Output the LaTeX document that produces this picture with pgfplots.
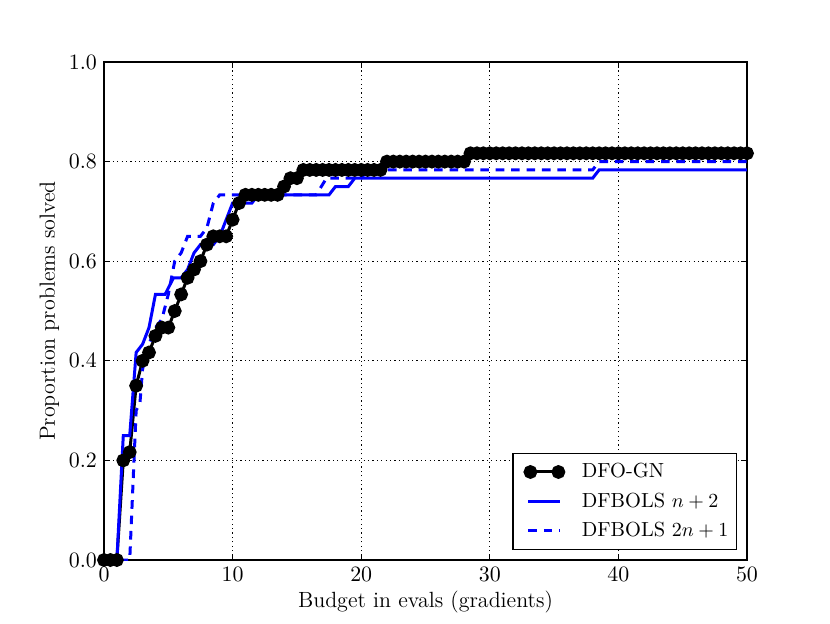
\documentclass[border=0pt]{standalone}
\usepackage{pgfplots}
\pgfplotsset{compat=1.18}
\pgfplotsset{
  plainline legend/.style={legend image code/.code={\path (0pt,0pt); \draw[##1] (5pt,0pt) -- (21pt,0pt);}},
  twomark legend/.style={legend image code/.code={\path (0pt,0pt); \draw[##1] plot coordinates {(6pt,0pt) (20pt,0pt)};}},
}
\begin{document}
\begin{tikzpicture}
\useasboundingbox (-52pt,-31.5pt) rectangle (363pt,280pt);
\begin{axis}[
  at={(0,0)}, anchor=south west,
  scale only axis, width=321.5pt, height=249pt,
  xmin=0, xmax=50, ymin=0, ymax=1,
  xtick={0,10,20,30,40,50},
  ytick={0,0.2,0.4,0.6,0.8,1.0},
  yticklabel style={/pgf/number format/fixed,/pgf/number format/fixed zerofill,/pgf/number format/precision=1},
  tick label style={font=\fontsize{10.5}{12}\selectfont},
  label style={font=\fontsize{11}{13}\selectfont},
  tick align=inside,
  major tick length=3pt,
  tick style={black, line width=0.5pt},
  axis line style={line width=0.6pt},
  grid=major,
  major grid style={black, line width=0.5pt, dash pattern=on 0.6pt off 1.6pt},
  xlabel={Budget in evals (gradients)},
  ylabel={Proportion problems solved},
  xlabel style={yshift=2pt},
  ylabel style={yshift=-2pt},
  legend cell align=left,
  legend style={at={(0.9844,0.02)}, anchor=south east, draw=black, line width=0.6pt,
    inner xsep=2pt, inner ysep=3pt, row sep=2pt, font=\fontsize{10.2}{12}\selectfont,
    /tikz/every odd column/.append style={column sep=7pt}},
  plainline legend,
]
\addplot[black, line width=1.5pt, mark=*, mark size=2.7pt, mark options={solid}, twomark legend]
coordinates {
(0,0)(0.5,0)(1,0)(1.5,0.2)(2,0.2167)(2.5,0.35)(3,0.4)(3.5,0.4167)(4,0.45)(4.5,0.4667)
(5,0.4667)(5.5,0.5)(6,0.5333)(6.5,0.5667)(7,0.5833)(7.5,0.6)(8,0.6333)(8.5,0.65)(9,0.65)(9.5,0.65)
(10,0.6833)(10.5,0.7167)(11,0.7333)(11.5,0.7333)(12,0.7333)(12.5,0.7333)(13,0.7333)(13.5,0.7333)
(14,0.75)(14.5,0.7667)(15,0.7667)(15.5,0.7833)(16,0.7833)(16.5,0.7833)(17,0.7833)(17.5,0.7833)
(18,0.7833)(18.5,0.7833)(19,0.7833)(19.5,0.7833)(20,0.7833)(20.5,0.7833)(21,0.7833)(21.5,0.7833)
(22,0.8)(22.5,0.8)(23,0.8)(23.5,0.8)(24,0.8)(24.5,0.8)(25,0.8)(25.5,0.8)(26,0.8)(26.5,0.8)
(27,0.8)(27.5,0.8)(28,0.8)
(28.5,0.8167)(29,0.8167)(29.5,0.8167)(30,0.8167)(30.5,0.8167)(31,0.8167)(31.5,0.8167)(32,0.8167)
(32.5,0.8167)(33,0.8167)(33.5,0.8167)(34,0.8167)(34.5,0.8167)(35,0.8167)(35.5,0.8167)(36,0.8167)
(36.5,0.8167)(37,0.8167)(37.5,0.8167)(38,0.8167)(38.5,0.8167)(39,0.8167)(39.5,0.8167)(40,0.8167)
(40.5,0.8167)(41,0.8167)(41.5,0.8167)(42,0.8167)(42.5,0.8167)(43,0.8167)(43.5,0.8167)(44,0.8167)
(44.5,0.8167)(45,0.8167)(45.5,0.8167)(46,0.8167)(46.5,0.8167)(47,0.8167)(47.5,0.8167)(48,0.8167)
(48.5,0.8167)(49,0.8167)(49.5,0.8167)(50,0.8167)
};
\addlegendentry{DFO-GN}
\addplot[blue, line width=1.5pt]
coordinates {
(0,0)(1,0)(1.5,0.25)(2,0.25)(2.5,0.4167)(3,0.4333)(3.5,0.4667)(4,0.5333)(4.75,0.5333)(5.4,0.5667)
(6,0.5667)(6.5,0.5833)(7,0.6167)(7.5,0.6333)(8.5,0.6333)(9,0.65)(9.5,0.6833)(10,0.7167)
(11.5,0.7167)(12,0.7333)(17.5,0.7333)(18,0.75)(19,0.75)(19.5,0.7667)(38,0.7667)(38.5,0.7833)(50,0.7833)
};
\addlegendentry{DFBOLS $n+2$}
\addplot[blue, line width=1.5pt, dash pattern=on 4.3pt off 3.4pt]
coordinates {
(0,0)(2,0)(2.5,0.3)(2.8,0.3167)(3,0.3833)(3.5,0.4333)(4,0.4667)(4.5,0.4833)(5,0.5333)(5.5,0.6)
(6,0.6167)(6.5,0.65)(7.5,0.65)(8,0.6667)(8.5,0.7167)(9,0.7333)(16.5,0.7333)(17.3,0.7667)
(20,0.7667)(20.5,0.7833)(38,0.7833)(38.5,0.8)(50,0.8)
};
\addlegendentry{DFBOLS $2n+1$}
\end{axis}
\end{tikzpicture}
\end{document}
